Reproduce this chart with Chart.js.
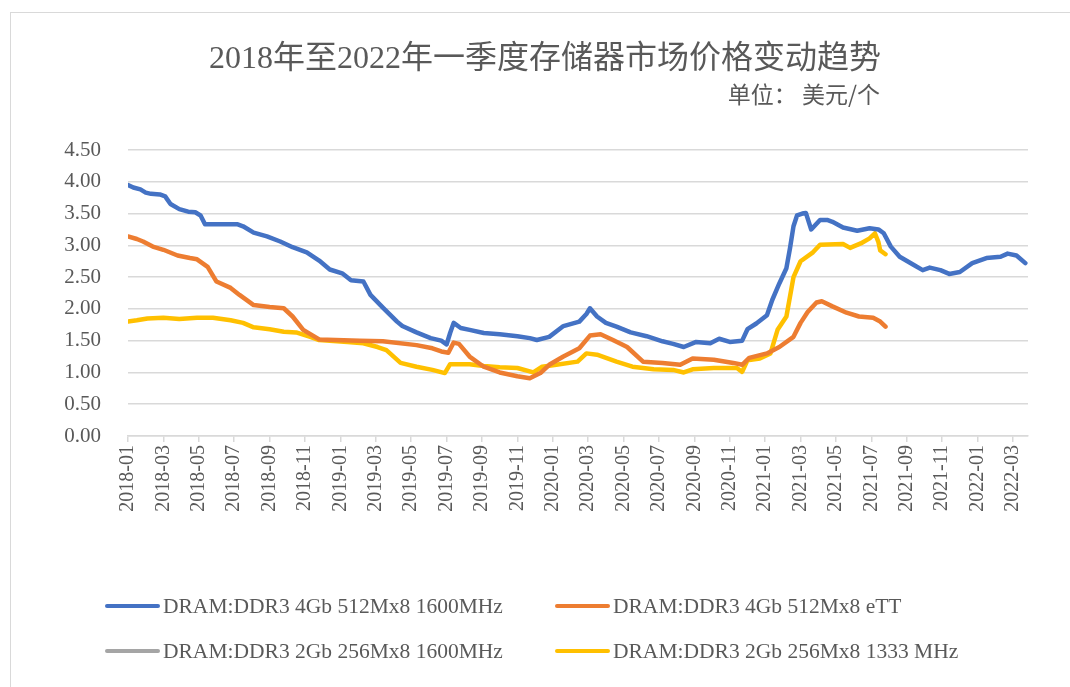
<!DOCTYPE html>
<html lang="zh-CN">

<head>
    <meta charset="UTF-8">
    <title>存储器市场价格变动趋势</title>
    <style>
        html, body { margin: 0; padding: 0; background: #fff; }
        #page { position: relative; width: 1070px; height: 687px; overflow: hidden; }
        #frame { position: absolute; left: 10px; top: 12px; width: 1100px; height: 700px; border: 1px solid #d9d9d9; box-sizing: border-box; }
        #chartBox { position: absolute; left: 0; top: 0; width: 1070px; height: 687px; }
        .title { position: absolute; color: #595959; font-family: "Liberation Serif", "Noto Sans CJK SC", serif; white-space: nowrap; }
        #title { left: 0; width: 1090px; top: 38px; text-align: center; font-size: 32px; line-height: 38px; }
        #subtitle { right: 190px; top: 79px; font-size: 23px; line-height: 28px; font-family: "Noto Sans CJK SC", sans-serif; }
        #legend { position: absolute; left: 105px; top: 590px; display: grid; grid-template-columns: 450px 450px; row-gap: 13px; }
        .item { display: flex; align-items: center; height: 32px; color: #595959; font: 21.5px "Liberation Serif", serif; white-space: nowrap; }
        .swatch { width: 55px; height: 4px; border-radius: 2px; margin-right: 3px; }
    </style>
</head>

<body>
    <div id="page">
        <div id="frame"></div>
        <div id="chartBox"><canvas id="myChart01"></canvas></div>
        <div class="title" id="title">2018年至2022年一季度存储器市场价格变动趋势</div>
        <div class="title" id="subtitle">单位：&nbsp;美元/个</div>
        <div id="legend"></div>
    </div>
</body>
<script src="https://cdn.jsdelivr.net/npm/chart.js"></script>
<script>
    // x = months since 2018-01
    var tickLabels = ['2018-01', '2018-03', '2018-05', '2018-07', '2018-09', '2018-11',
        '2019-01', '2019-03', '2019-05', '2019-07', '2019-09', '2019-11',
        '2020-01', '2020-03', '2020-05', '2020-07', '2020-09', '2020-11',
        '2021-01', '2021-03', '2021-05', '2021-07', '2021-09', '2021-11',
        '2022-01', '2022-03'];

    var seriesNames = ['DRAM:DDR3 4Gb 512Mx8 1600MHz', 'DRAM:DDR3 4Gb 512Mx8 eTT',
        'DRAM:DDR3 2Gb 256Mx8 1600MHz', 'DRAM:DDR3 2Gb 256Mx8 1333 MHz'];
    var seriesColors = ['#4472C4', '#ED7D31', '#A5A5A5', '#FFC000'];

    var blueMonths = [0, 0.3, 0.7, 1.0, 1.3, 1.8, 2.1, 2.4, 2.9, 3.4, 3.8, 4.1, 4.35, 5.0, 6.2, 6.5, 7.1, 7.85,
        8.6, 9.3, 10.1, 10.8, 11.4, 12.1, 12.6, 13.3, 13.7, 14.4, 15.2, 15.5, 16.3, 17.1, 17.7, 18.0, 18.2, 18.4,
        18.8, 19.3, 20.1, 21.0, 22.0, 22.7, 23.1, 23.8, 24.6, 25.5, 25.9, 26.1, 26.5, 27.0, 27.6, 28.4, 29.3,
        30.2, 30.8, 31.4, 32.1, 32.9, 33.4, 34.0, 34.7, 35.0, 35.5, 36.1, 36.4, 36.8, 37.2, 37.4, 37.6, 37.8,
        38.1, 38.3, 38.6, 39.1, 39.5, 39.8, 40.4, 41.2, 41.9, 42.4, 42.7, 43.1, 43.6, 44.4, 44.9, 45.3, 45.9,
        46.4, 47.0, 47.7, 48.5, 49.3, 49.7, 50.2, 50.7];
    var blueValues = [3.95, 3.91, 3.88, 3.83, 3.81, 3.80, 3.77, 3.65, 3.57, 3.53, 3.52, 3.47, 3.33, 3.33, 3.33, 3.30, 3.20, 3.14,
        3.06, 2.97, 2.89, 2.76, 2.62, 2.56, 2.45, 2.43, 2.22, 2.02, 1.80, 1.73, 1.63, 1.54, 1.50, 1.44, 1.62, 1.78,
        1.70, 1.67, 1.62, 1.60, 1.57, 1.54, 1.51, 1.56, 1.73, 1.80, 1.92, 2.01, 1.88, 1.78, 1.72, 1.63, 1.57,
        1.49, 1.45, 1.40, 1.48, 1.46, 1.53, 1.48, 1.50, 1.68, 1.77, 1.90, 2.14, 2.40, 2.64, 2.95, 3.30, 3.47,
        3.50, 3.51, 3.25, 3.40, 3.40, 3.37, 3.28, 3.23, 3.27, 3.25, 3.19, 2.98, 2.82, 2.69, 2.61, 2.65, 2.61,
        2.55, 2.58, 2.72, 2.80, 2.82, 2.87, 2.84, 2.72];

    var orangeMonths = [0, 0.5, 0.85, 1.4, 2.0, 2.8, 3.5, 3.9, 4.5, 5.0, 5.8, 6.3, 7.1, 8.0, 8.8, 9.3, 9.9, 10.8,
        13.1, 14.4, 16.3, 17.2, 17.7, 18.1, 18.4, 18.7, 19.3, 20.1, 21.0, 22.0, 22.7, 23.3, 23.8, 24.6, 25.5,
        26.1, 26.7, 27.4, 28.2, 29.1, 30.2, 31.2, 31.9, 33.1, 34.2, 34.7, 35.1, 36.1, 36.8, 37.6, 38.0, 38.4,
        38.9, 39.2, 39.8, 40.6, 41.3, 42.1, 42.5, 42.8];
    var orangeValues = [3.14, 3.10, 3.06, 2.98, 2.93, 2.84, 2.80, 2.78, 2.66, 2.43, 2.33, 2.22, 2.06, 2.03, 2.01, 1.88, 1.67, 1.52,
        1.50, 1.49, 1.43, 1.38, 1.33, 1.31, 1.47, 1.45, 1.25, 1.09, 1.00, 0.94, 0.91, 0.99, 1.12, 1.25, 1.38,
        1.58, 1.60, 1.51, 1.40, 1.17, 1.15, 1.12, 1.22, 1.20, 1.15, 1.12, 1.23, 1.30, 1.40, 1.56, 1.78, 1.95,
        2.10, 2.12, 2.04, 1.94, 1.88, 1.86, 1.80, 1.72];

    var grayMonths = [];
    var grayValues = [];

    var yellowMonths = [0, 0.5, 1.1, 2.0, 2.9, 3.9, 4.8, 5.8, 6.5, 7.1, 8.0, 8.8, 9.5, 10.3, 10.8, 12.4, 13.3,
        14.1, 14.6, 15.4, 16.3, 17.2, 17.9, 18.2, 19.3, 20.1, 21.0, 22.0, 22.9, 23.4, 24.2, 25.4, 25.9, 26.5,
        27.6, 28.5, 29.7, 30.8, 31.4, 31.9, 33.1, 34.4, 34.7, 35.0, 35.7, 36.3, 36.7, 37.2, 37.6, 38.0, 38.7,
        39.1, 40.4, 40.8, 41.4, 41.9, 42.2, 42.4, 42.5, 42.8];
    var yellowValues = [1.80, 1.82, 1.85, 1.86, 1.84, 1.86, 1.86, 1.82, 1.78, 1.71, 1.68, 1.64, 1.63, 1.56, 1.51, 1.48, 1.46,
        1.40, 1.35, 1.15, 1.09, 1.04, 0.99, 1.13, 1.13, 1.10, 1.08, 1.07, 1.00, 1.09, 1.12, 1.17, 1.30, 1.28,
        1.17, 1.09, 1.05, 1.04, 1.00, 1.05, 1.07, 1.07, 1.01, 1.19, 1.22, 1.30, 1.67, 1.88, 2.50, 2.75, 2.89,
        3.01, 3.02, 2.96, 3.03, 3.11, 3.19, 3.05, 2.92, 2.86];

    var yTicks = [0, 0.5, 1, 1.5, 2, 2.5, 3, 3.5, 4, 4.5];

    function toPoints(months, values) {
        return months.map(function (m, i) { return { x: m, y: values[i] }; });
    }

    var allMonths = [blueMonths, orangeMonths, grayMonths, yellowMonths];
    var allValues = [blueValues, orangeValues, grayValues, yellowValues];

    var mychart01;
    var textColor = '#595959';
    var gridColor = '#d9d9d9';
    var serif = '"Liberation Serif", "Noto Sans CJK SC", serif';

    var datasets = seriesNames.map(function (name, i) {
        return {
            label: name,
            data: toPoints(allMonths[i], allValues[i]),
            borderColor: seriesColors[i],
            backgroundColor: seriesColors[i],
            borderWidth: 4.5,
            pointRadius: 0,
            tension: 0,
            borderCapStyle: 'round',
            borderJoinStyle: 'round'
        };
    });

    const ctx01 = document.getElementById('myChart01');
    mychart01 = new Chart(ctx01, {
        type: 'line',
        data: { datasets: datasets },
        options: {
            responsive: true,
            maintainAspectRatio: false,
            animation: false,
            layout: { padding: { left: 10, right: 42, top: 150, bottom: 171 } },
            plugins: {
                legend: { display: false },
                tooltip: { enabled: false }
            },
            scales: {
                x: {
                    type: 'linear',
                    min: 0,
                    max: 50.85,
                    afterBuildTicks: function (axis) {
                        axis.ticks = tickLabels.map(function (_, i) { return { value: i * 2 }; });
                    },
                    afterFit: function (axis) { axis.height = 80; },
                    ticks: {
                        autoSkip: false,
                        minRotation: 90,
                        maxRotation: 90,
                        padding: 3,
                        color: textColor,
                        font: { family: serif, size: 20 },
                        callback: function (v) { return tickLabels[Math.round(v / 2)]; }
                    },
                    grid: { display: true, drawOnChartArea: false, drawTicks: true, tickLength: 6, color: gridColor, lineWidth: 1.5 },
                    border: { display: true, color: gridColor, width: 1.5 }
                },
                y: {
                    min: 0,
                    max: 4.5,
                    afterBuildTicks: function (axis) {
                        axis.ticks = yTicks.map(function (v) { return { value: v }; });
                    },
                    afterFit: function (axis) { axis.width = 118; },
                    ticks: {
                        padding: 27,
                        color: textColor,
                        font: { family: serif, size: 21 },
                        callback: function (v) { return Number(v).toFixed(2); }
                    },
                    grid: { color: gridColor, lineWidth: 1.5, drawTicks: false },
                    border: { display: false }
                }
            }
        }
    });

    // legend in two columns like the original
    var legendBox = document.getElementById('legend');
    mychart01.data.datasets.forEach(function (ds) {
        var item = document.createElement('div');
        item.className = 'item';
        var sw = document.createElement('span');
        sw.className = 'swatch';
        sw.style.background = ds.borderColor;
        var tx = document.createElement('span');
        tx.textContent = ds.label;
        item.appendChild(sw);
        item.appendChild(tx);
        legendBox.appendChild(item);
    });
</script>

</html>
